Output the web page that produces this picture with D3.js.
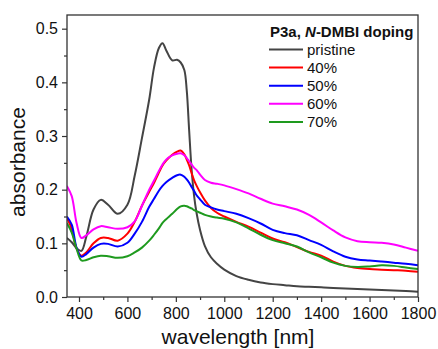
<!DOCTYPE html>
<html>
<head>
<meta charset="utf-8">
<script src="https://cdn.jsdelivr.net/npm/d3@7"></script>
<style>
  body { margin: 0; background: #fff; }
  svg { font-family: "Liberation Sans", Arial, sans-serif; }
</style>
</head>
<body>
<div id="chart"></div>
<script>
// wavelength grid (nm) shared by all spectra
const wavelengths = [350, 370, 390, 410, 430, 460, 490, 520, 560, 600, 630, 660, 690, 710, 730, 745, 760, 785, 805, 820, 835, 845, 855, 865, 875, 885, 900, 920, 945, 970, 1000, 1050, 1100, 1150, 1200, 1250, 1300, 1350, 1400, 1450, 1500, 1550, 1600, 1650, 1700, 1750, 1800];

const pristine = [.110, .102, .091, .086, .112, .163, .181, .172, .155, .172, .226, .296, .368, .428, .464, .473, .460, .441, .442, .437, .423, .385, .310, .238, .190, .158, .125, .095, .074, .062, .051, .039, .032, .027, .024, .022, .020, .019, .018, .017, .016, .015, .014, .013, .012, .011, .010];
const dop40 = [.148, .127, .090, .077, .083, .100, .110, .110, .105, .118, .140, .170, .196, .213, .232, .245, .254, .265, .271, .273, .266, .256, .245, .231, .218, .208, .195, .180, .166, .157, .150, .140, .131, .120, .109, .102, .093, .084, .077, .066, .058, .054, .052, .051, .050, .049, .047];
const dop50 = [.150, .135, .092, .075, .080, .092, .099, .099, .094, .101, .118, .140, .168, .183, .198, .207, .214, .222, .227, .228, .224, .219, .213, .205, .198, .190, .182, .172, .167, .163, .160, .155, .147, .137, .125, .119, .115, .106, .097, .085, .075, .070, .068, .066, .064, .062, .059];
const dop60 = [.207, .188, .138, .110, .115, .126, .132, .130, .127, .130, .141, .170, .200, .217, .235, .247, .256, .264, .267, .268, .264, .259, .253, .247, .241, .237, .228, .218, .213, .211, .208, .201, .193, .183, .174, .169, .163, .153, .139, .124, .111, .104, .102, .101, .098, .092, .086];
const dop70 = [.138, .120, .090, .068, .069, .074, .077, .076, .073, .076, .083, .092, .105, .116, .128, .138, .145, .155, .164, .169, .170, .169, .167, .165, .162, .160, .157, .153, .150, .148, .146, .139, .128, .116, .106, .100, .094, .083, .074, .064, .058, .056, .057, .059, .058, .055, .052];

const seriesNames = ["pristine", "40%", "50%", "60%", "70%"];
const seriesValues = [pristine, dop40, dop50, dop60, dop70];
const seriesColors = ["#444444", "#ff0000", "#0000ff", "#ff00ff", "#1e9a1e"];

const xTicks = [400, 600, 800, 1000, 1200, 1400, 1600, 1800];
const yTicks = [0.0, 0.1, 0.2, 0.3, 0.4, 0.5];

const width = 438, height = 349;
const plotL = 67, plotR = 418, plotT = 15, plotB = 297;

const svg = d3.select("#chart").append("svg")
    .attr("width", width)
    .attr("height", height);

const x = d3.scaleLinear().domain([350.5, 1800]).range([plotL, plotR]);
const y = d3.scaleLinear().domain([0, 0.5255]).range([plotB, plotT]);

svg.append("clipPath").attr("id", "plotclip")
  .append("rect")
    .attr("x", plotL).attr("y", plotT)
    .attr("width", plotR - plotL).attr("height", plotB - plotT);

// spectra
const line = d3.line()
    .x(d => x(d[0]))
    .y(d => y(d[1]))
    .curve(d3.curveCatmullRom.alpha(0.5));

svg.append("g").attr("clip-path", "url(#plotclip)")
  .selectAll("path")
  .data(seriesValues)
  .enter().append("path")
    .attr("d", vals => line(wavelengths.map((w, i) => [w, vals[i]])))
    .attr("fill", "none")
    .attr("stroke", (d, i) => seriesColors[i])
    .attr("stroke-width", 2)
    .attr("stroke-linejoin", "round");

// frame
svg.append("rect")
    .attr("x", plotL).attr("y", plotT)
    .attr("width", plotR - plotL).attr("height", plotB - plotT)
    .attr("fill", "none")
    .attr("stroke", "#333")
    .attr("stroke-width", 1.3);

// axes with outward ticks
const xAxis = svg.append("g")
    .attr("transform", `translate(0,${plotB})`)
    .call(d3.axisBottom(x).tickValues(xTicks).tickSize(5).tickPadding(6).tickFormat(d3.format("d")));
const xMinor = svg.append("g")
    .attr("transform", `translate(0,${plotB})`)
    .call(d3.axisBottom(x).tickValues(d3.range(500, 1800, 200)).tickSize(3).tickFormat(""));

const yAxis = svg.append("g")
    .attr("transform", `translate(${plotL},0)`)
    .call(d3.axisLeft(y).tickValues(yTicks).tickSize(5).tickPadding(4).tickFormat(d3.format(".1f")));
const yMinor = svg.append("g")
    .attr("transform", `translate(${plotL},0)`)
    .call(d3.axisLeft(y).tickValues([0.05, 0.15, 0.25, 0.35, 0.45]).tickSize(3).tickFormat(""));

[xAxis, xMinor, yAxis, yMinor].forEach(g => {
  g.select(".domain").remove();
  g.selectAll(".tick line").attr("stroke", "#333").attr("stroke-width", 1.2);
  g.selectAll("text").attr("font-size", "16px").attr("fill", "#111")
    .style("font-family", '"Liberation Sans", Arial, sans-serif');
});

// axis titles
svg.append("text")
    .attr("x", 238).attr("y", 344)
    .attr("text-anchor", "middle")
    .attr("font-size", "21px")
    .attr("fill", "#111")
    .text("wavelength [nm]");

svg.append("text")
    .attr("transform", "translate(25,162) rotate(-90)")
    .attr("text-anchor", "middle")
    .attr("font-size", "21px")
    .attr("fill", "#111")
    .text("absorbance");

// legend
const legTitle = svg.append("text")
    .attr("x", 270).attr("y", 37)
    .attr("font-size", "15px")
    .attr("font-weight", "bold")
    .attr("fill", "#111");
legTitle.append("tspan").text("P3a, ");
legTitle.append("tspan").attr("font-style", "italic").text("N");
legTitle.append("tspan").text("-DMBI doping");

const legend = svg.selectAll(".legend")
    .data(seriesNames)
    .enter().append("g")
    .attr("class", "legend")
    .attr("transform", (d, i) => `translate(269,${49.5 + i * 18.1})`);

legend.append("line")
    .attr("x1", 0).attr("x2", 34)
    .attr("stroke", (d, i) => seriesColors[i])
    .attr("stroke-width", 2);

legend.append("text")
    .attr("x", 38).attr("y", 5.5)
    .attr("font-size", "15px")
    .attr("fill", "#111")
    .text(d => d);
</script>
</body>
</html>
